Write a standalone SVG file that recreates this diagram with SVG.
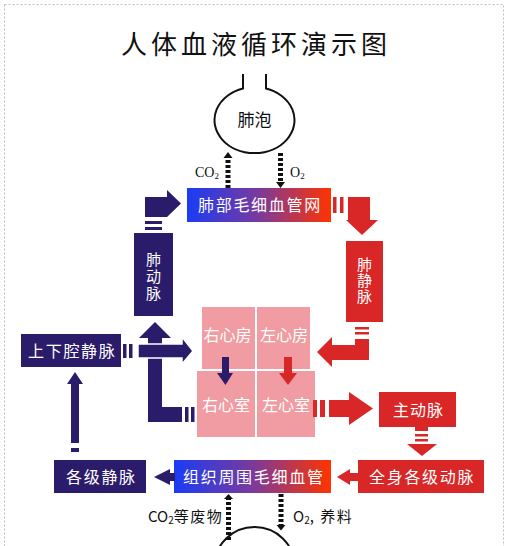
<svg xmlns="http://www.w3.org/2000/svg" width="508" height="546" viewBox="0 0 508 546">
<style>
.navy{fill:#2b1b6b}
.red{fill:#d92626}
.pink{fill:#f09ca2}
.lbl{font-family:"Noto Sans CJK SC","Noto Sans",sans-serif;font-size:16px;fill:#ffffff;letter-spacing:1.7px}
.vl{font-family:"Noto Sans CJK SC","Noto Sans",sans-serif;font-size:15px;fill:#ffffff;writing-mode:vertical-rl}
.hl{font-family:"Noto Sans CJK SC","Noto Sans",sans-serif;font-size:16px;fill:#ffffff;text-anchor:middle}
.dk{font-family:"Noto Sans CJK SC","Noto Sans",sans-serif;font-size:15px;fill:#111111}
.ser{font-family:"Liberation Serif",serif;font-size:14px;fill:#111111}
.dots{stroke:#111111;stroke-width:5;stroke-dasharray:3 2;fill:none}
.cell{fill:#ffffff;stroke:#111111;stroke-width:2}
</style>
<defs>
<linearGradient id="cap" x1="0" y1="0" x2="1" y2="0">
<stop offset="0" stop-color="#1a3cf5"/>
<stop offset="0.5" stop-color="#7a3a9c"/>
<stop offset="1" stop-color="#ff3300"/>
</linearGradient>
</defs>
<rect x="0" y="0" width="508" height="546" fill="#ffffff"/>
<rect x="4.5" y="4.5" width="499" height="570" fill="none" stroke="#bdbdbd" stroke-width="1" stroke-dasharray="2 2"/>

<text x="121" y="54" font-family="'Noto Sans CJK SC','Noto Sans',sans-serif" font-size="26" letter-spacing="4" fill="#111111">人体血液循环演示图</text>

<g id="alveolus">
<path class="cell" d="M243,74 V88.5 A40,33 0 1 0 266,88.5 V74"/>
<text x="254.5" y="126" font-family="'Noto Sans CJK SC','Noto Sans',sans-serif" font-size="17" fill="#111111" text-anchor="middle">肺泡</text>
</g>

<g id="tissue-cell">
<ellipse class="cell" cx="254.5" cy="566" rx="40" ry="39"/>
</g>

<g id="lung-capillary">
<rect x="187" y="188" width="144" height="34" fill="url(#cap)"/>
<text class="lbl" x="198" y="211">肺部毛细血管网</text>
</g>

<g id="pulmonary-artery">
<rect class="navy" x="134" y="233" width="39" height="83"/>
<text class="vl" x="153.5" y="252" letter-spacing="2">肺动脉</text>
</g>

<g id="pulmonary-vein">
<rect class="red" x="346" y="241" width="37" height="81"/>
<text class="vl" x="364.5" y="257" letter-spacing="1">肺静脉</text>
</g>

<g id="vena-cava">
<rect class="navy" x="21" y="334" width="100" height="33"/>
<text class="lbl" x="28" y="356.5">上下腔静脉</text>
</g>

<g id="right-atrium">
<rect class="pink" x="202" y="307" width="53" height="62"/>
<text class="hl" x="227.5" y="341">右心房</text>
</g>
<g id="left-atrium">
<rect class="pink" x="257" y="307" width="53" height="62"/>
<text class="hl" x="284" y="341">左心房</text>
</g>
<g id="right-ventricle">
<rect class="pink" x="197" y="371" width="58" height="66"/>
<text class="hl" x="226" y="411">右心室</text>
</g>
<g id="left-ventricle">
<rect class="pink" x="257" y="371" width="58" height="66"/>
<text class="hl" x="286" y="411">左心室</text>
</g>

<g id="aorta">
<rect class="red" x="379" y="392" width="77" height="35"/>
<text class="lbl" x="393" y="415.5" style="letter-spacing:1px">主动脉</text>
</g>

<g id="veins">
<rect class="navy" x="54" y="460" width="92" height="33"/>
<text class="lbl" x="66" y="482.5">各级静脉</text>
</g>

<g id="tissue-capillary">
<rect x="174" y="460" width="157" height="33" fill="url(#cap)"/>
<text class="lbl" x="183" y="482.5">组织周围毛细血管</text>
</g>

<g id="arteries">
<rect class="red" x="358" y="460" width="126" height="33"/>
<text class="lbl" x="369" y="482.5">全身各级动脉</text>
</g>

<g id="connectors">
<!-- 肺动脉 -> 肺部毛细血管网 -->
<rect class="navy" x="145" y="221" width="17" height="3"/>
<rect class="navy" x="145" y="227" width="17" height="3"/>
<polygon class="navy" points="145,217 145,197 167,197 167,190 181,203.5 167,217"/>
<!-- 右心室 -> 肺动脉 -->
<polygon class="navy" points="155,322 171,338 162,338 162,407 182,407 182,422 148,422 148,338 139,338"/>
<rect class="navy" x="185" y="407" width="3.5" height="15"/>
<rect class="navy" x="191" y="407" width="3.5" height="15"/>
<!-- 上下腔静脉 -> 右心房 -->
<rect class="navy" x="123" y="344" width="3.5" height="14"/>
<rect class="navy" x="129" y="344" width="3.5" height="14"/>
<polygon class="navy" points="138,344 182,344 182,337 193,351 182,364 182,358 138,358" stroke="#ffffff" stroke-width="1.5"/>
<!-- 各级静脉 -> 上下腔静脉 -->
<rect class="navy" x="71" y="448" width="8" height="4"/>
<polygon class="navy" points="75,372 83,384 79,384 79,443 71,443 71,384 67,384"/>
<!-- 组织周围毛细血管 -> 各级静脉 -->
<polygon class="navy" points="154,477 170,469 170,473 175,473 175,481 170,481 170,485"/>
<!-- 全身各级动脉 -> 组织周围毛细血管 -->
<polygon class="red" points="337,477 350,469 350,473 358,473 358,481 350,481 350,485"/>
<!-- 主动脉 -> 全身各级动脉 -->
<rect class="red" x="415" y="427" width="13" height="4"/>
<rect class="red" x="415" y="434" width="13" height="2.5"/>
<rect class="red" x="415" y="439" width="13" height="2.5"/>
<polygon class="red" points="407,444 437,444 422,456"/>
<!-- 左心室 -> 主动脉 -->
<rect class="red" x="313" y="400" width="4" height="17"/>
<rect class="red" x="320" y="400" width="5" height="17"/>
<polygon class="red" points="329,400 349,400 349,392 373,408.5 349,425 349,417 329,417"/>
<!-- 肺静脉 -> 左心房 -->
<rect class="red" x="355" y="327" width="14" height="2.5"/>
<rect class="red" x="355" y="332" width="14" height="2.5"/>
<polygon class="red" points="355,339 369,339 369,360 332,360 332,367 317,352 332,337 332,345 355,345"/>
<!-- 肺部毛细血管网 -> 肺静脉 -->
<rect class="red" x="333" y="197" width="3.5" height="16"/>
<rect class="red" x="340" y="197" width="3.5" height="16"/>
<polygon class="red" points="348,197 370,197 370,220 378,220 362,235 346,220 348,220"/>
<!-- 心房 -> 心室 -->
<polygon class="navy" points="222,357 229,357 229,373 233,373 225.5,385 217,373 222,373"/>
<polygon class="red" points="284,357 292,357 292,373 297,373 288,385 279,373 284,373"/>
<!-- 气体交换 (肺) -->
<line class="dots" x1="228" y1="188" x2="228" y2="158"/>
<polygon fill="#111111" points="228,152 232.5,158 223.5,158"/>
<line class="dots" x1="280.5" y1="153" x2="280.5" y2="182"/>
<polygon fill="#111111" points="280.5,188 285,182 276,182"/>
<!-- 气体交换 (组织) -->
<line class="dots" x1="228.5" y1="540" x2="228.5" y2="499"/>
<polygon fill="#111111" points="228.5,494 233,499 224,499"/>
<line class="dots" x1="281" y1="494" x2="281" y2="525"/>
<polygon fill="#111111" points="281,530.5 285.5,525 276.5,525"/>
</g>

<g id="gas-labels">
<text class="ser" x="195" y="177">CO<tspan font-size="9" dy="2">2</tspan></text>
<text class="ser" x="290" y="177">O<tspan font-size="9" dy="2">2</tspan></text>
<text class="dk" x="148" y="522">CO<tspan font-size="10" dy="2">2</tspan><tspan dy="-2" letter-spacing="1.5">等废物</tspan></text>
<text class="dk" x="293" y="522">O<tspan font-size="10" dy="2">2</tspan><tspan dy="-2" letter-spacing="1.5">, 养料</tspan></text>
</g>
</svg>
